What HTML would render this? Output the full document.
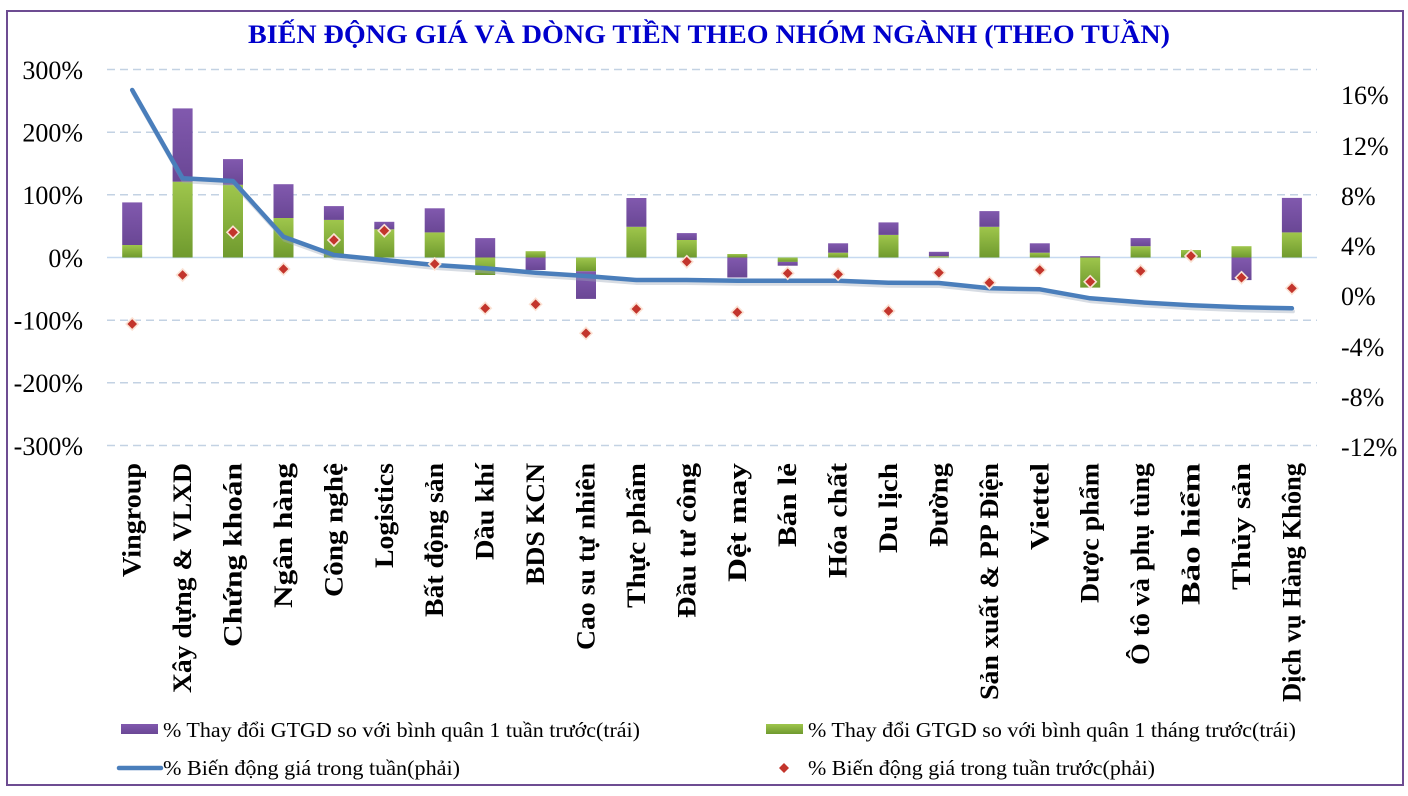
<!DOCTYPE html>
<html><head><meta charset="utf-8">
<style>
html,body{margin:0;padding:0;background:#fff;}
svg{display:block;}
text{font-family:"Liberation Serif","DejaVu Serif",serif;}
</style></head>
<body>
<svg width="1408" height="796" viewBox="0 0 1408 796" xmlns="http://www.w3.org/2000/svg">
<defs>
<linearGradient id="gp" x1="0" y1="0" x2="0" y2="1"><stop offset="0" stop-color="#8159ae"/><stop offset="1" stop-color="#6a4795"/></linearGradient>
<linearGradient id="gg" x1="0" y1="0" x2="0" y2="1"><stop offset="0" stop-color="#9fc64c"/><stop offset="1" stop-color="#6f9a2e"/></linearGradient>
</defs>
<rect x="0" y="0" width="1408" height="796" fill="#fff"/>
<rect x="7" y="11" width="1396" height="774" fill="none" stroke="#6d4c92" stroke-width="2"/>

<text x="248" y="43" font-size="26" font-weight="bold" fill="#0000cc" textLength="922" lengthAdjust="spacingAndGlyphs">BIẾN ĐỘNG GIÁ VÀ DÒNG TIỀN THEO NHÓM NGÀNH (THEO TUẦN)</text>

<!-- gridlines -->
<g stroke="#c3d2e3" stroke-width="1.5" stroke-dasharray="8,5" fill="none">
<line x1="107" y1="69.5" x2="1317" y2="69.5"/>
<line x1="107" y1="132.2" x2="1317" y2="132.2"/>
<line x1="107" y1="194.8" x2="1317" y2="194.8"/>
<line x1="107" y1="320.2" x2="1317" y2="320.2"/>
<line x1="107" y1="382.8" x2="1317" y2="382.8"/>
<line x1="107" y1="445.5" x2="1317" y2="445.5"/>
</g>
<line x1="107" y1="257.5" x2="1317" y2="257.5" stroke="#c6d9f0" stroke-width="1.5"/>

<!-- left axis labels -->
<g font-size="26" fill="#000" text-anchor="end">
<text x="83" y="79">300%</text>
<text x="83" y="141.5">200%</text>
<text x="83" y="204">100%</text>
<text x="83" y="267">0%</text>
<text x="83" y="329.5">-100%</text>
<text x="83" y="392">-200%</text>
<text x="83" y="455">-300%</text>
</g>
<!-- right axis labels -->
<g font-size="26" fill="#000">
<text x="1341" y="104">16%</text>
<text x="1341" y="155">12%</text>
<text x="1341" y="205">8%</text>
<text x="1341" y="255">4%</text>
<text x="1341" y="305">0%</text>
<text x="1341" y="356">-4%</text>
<text x="1341" y="406">-8%</text>
<text x="1341" y="456">-12%</text>
</g>

<!-- bars -->
<g>
<rect x="122.2" y="245" width="20" height="12.5" fill="url(#gg)"/>
<rect x="122.2" y="202.4" width="20" height="42.6" fill="url(#gp)"/>

<rect x="172.6" y="181.7" width="20" height="75.8" fill="url(#gg)"/>
<rect x="172.6" y="108.4" width="20" height="73.3" fill="url(#gp)"/>

<rect x="223" y="184.8" width="20" height="72.7" fill="url(#gg)"/>
<rect x="223" y="159.1" width="20" height="25.7" fill="url(#gp)"/>

<rect x="273.5" y="218" width="20" height="39.5" fill="url(#gg)"/>
<rect x="273.5" y="184.2" width="20" height="33.8" fill="url(#gp)"/>

<rect x="323.9" y="219.9" width="20" height="37.6" fill="url(#gg)"/>
<rect x="323.9" y="206.1" width="20" height="13.8" fill="url(#gp)"/>

<rect x="374.3" y="229.3" width="20" height="28.2" fill="url(#gg)"/>
<rect x="374.3" y="221.8" width="20" height="7.5" fill="url(#gp)"/>

<rect x="424.7" y="232.4" width="20" height="25.1" fill="url(#gg)"/>
<rect x="424.7" y="208.3" width="20" height="24.1" fill="url(#gp)"/>

<rect x="475.2" y="257.5" width="20" height="17.5" fill="url(#gg)"/>
<rect x="475.2" y="238.1" width="20" height="19.4" fill="url(#gp)"/>

<rect x="525.6" y="251.2" width="20" height="6.3" fill="url(#gg)"/>
<rect x="525.6" y="257.5" width="20" height="12.5" fill="url(#gp)"/>

<rect x="576" y="257.5" width="20" height="13.8" fill="url(#gg)"/>
<rect x="576" y="271.3" width="20" height="27.6" fill="url(#gp)"/>

<rect x="626.4" y="226.8" width="20" height="30.7" fill="url(#gg)"/>
<rect x="626.4" y="198" width="20" height="28.8" fill="url(#gp)"/>

<rect x="676.8" y="240" width="20" height="17.5" fill="url(#gg)"/>
<rect x="676.8" y="233.1" width="20" height="6.9" fill="url(#gp)"/>

<rect x="727.3" y="254" width="20" height="3.5" fill="url(#gg)"/>
<rect x="727.3" y="257.5" width="20" height="20" fill="url(#gp)"/>

<rect x="777.7" y="257.5" width="20" height="4.4" fill="url(#gg)"/>
<rect x="777.7" y="261.9" width="20" height="3.8" fill="url(#gp)"/>

<rect x="828.1" y="252.7" width="20" height="4.8" fill="url(#gg)"/>
<rect x="828.1" y="243.3" width="20" height="9.4" fill="url(#gp)"/>

<rect x="878.5" y="234.9" width="20" height="22.6" fill="url(#gg)"/>
<rect x="878.5" y="222.4" width="20" height="12.5" fill="url(#gp)"/>

<rect x="928.9" y="256.2" width="20" height="1.3" fill="url(#gg)"/>
<rect x="928.9" y="251.8" width="20" height="4.4" fill="url(#gp)"/>

<rect x="979.4" y="226.8" width="20" height="30.7" fill="url(#gg)"/>
<rect x="979.4" y="211.1" width="20" height="15.7" fill="url(#gp)"/>

<rect x="1029.8" y="252.7" width="20" height="4.8" fill="url(#gg)"/>
<rect x="1029.8" y="243.3" width="20" height="9.4" fill="url(#gp)"/>

<rect x="1080.2" y="257.5" width="20" height="30.1" fill="url(#gg)"/>
<rect x="1080.2" y="256.2" width="20" height="1.3" fill="url(#gp)"/>

<rect x="1130.6" y="246.2" width="20" height="11.3" fill="url(#gg)"/>
<rect x="1130.6" y="238.1" width="20" height="8.1" fill="url(#gp)"/>

<rect x="1181" y="250" width="20" height="7.5" fill="url(#gg)"/>

<rect x="1231.5" y="246.2" width="20" height="11.3" fill="url(#gg)"/>
<rect x="1231.5" y="257.5" width="20" height="22.6" fill="url(#gp)"/>

<rect x="1281.9" y="232.4" width="20" height="25.1" fill="url(#gg)"/>
<rect x="1281.9" y="197.9" width="20" height="34.5" fill="url(#gp)"/>
</g>

<!-- line shadow -->
<polyline fill="none" stroke="#9aa8b8" stroke-opacity="0.4" stroke-width="4" stroke-linejoin="round" stroke-linecap="round" transform="translate(1,3)"
points="132.2,90 182.6,178.3 233,181 283.5,236.7 333.9,255 384.3,260 434.7,265 485.2,268.3 535.6,272.7 586,276 636.4,280 686.8,280 737.3,280.7 787.7,280.7 838.1,280.7 888.5,282.7 938.9,283 989.4,288.3 1039.8,289.3 1090.2,298.3 1140.6,302.3 1191,305.3 1241.5,307.3 1291.9,308.3"/>
<!-- line -->
<polyline fill="none" stroke="#4a7ebb" stroke-width="4.5" stroke-linejoin="round" stroke-linecap="round"
points="132.2,90 182.6,178.3 233,181 283.5,236.7 333.9,255 384.3,260 434.7,265 485.2,268.3 535.6,272.7 586,276 636.4,280 686.8,280 737.3,280.7 787.7,280.7 838.1,280.7 888.5,282.7 938.9,283 989.4,288.3 1039.8,289.3 1090.2,298.3 1140.6,302.3 1191,305.3 1241.5,307.3 1291.9,308.3"/>

<!-- diamonds -->
<g fill="#c3352c" stroke="#fbe2d4" stroke-width="1.6">
<path d="M132.2,318 L138.2,324 L132.2,330 L126.2,324 Z"/>
<path d="M182.6,269 L188.6,275 L182.6,281 L176.6,275 Z"/>
<path d="M233,226.3 L239,232.3 L233,238.3 L227,232.3 Z"/>
<path d="M283.5,263 L289.5,269 L283.5,275 L277.5,269 Z"/>
<path d="M333.9,234 L339.9,240 L333.9,246 L327.9,240 Z"/>
<path d="M384.3,224.7 L390.3,230.7 L384.3,236.7 L378.3,230.7 Z"/>
<path d="M434.7,258 L440.7,264 L434.7,270 L428.7,264 Z"/>
<path d="M485.2,302.3 L491.2,308.3 L485.2,314.3 L479.2,308.3 Z"/>
<path d="M535.6,298.3 L541.6,304.3 L535.6,310.3 L529.6,304.3 Z"/>
<path d="M586,327.3 L592,333.3 L586,339.3 L580,333.3 Z"/>
<path d="M636.4,303 L642.4,309 L636.4,315 L630.4,309 Z"/>
<path d="M686.8,255.7 L692.8,261.7 L686.8,267.7 L680.8,261.7 Z"/>
<path d="M737.3,306.3 L743.3,312.3 L737.3,318.3 L731.3,312.3 Z"/>
<path d="M787.7,267.3 L793.7,273.3 L787.7,279.3 L781.7,273.3 Z"/>
<path d="M838.1,268.3 L844.1,274.3 L838.1,280.3 L832.1,274.3 Z"/>
<path d="M888.5,305 L894.5,311 L888.5,317 L882.5,311 Z"/>
<path d="M938.9,266.7 L944.9,272.7 L938.9,278.7 L932.9,272.7 Z"/>
<path d="M989.4,276.7 L995.4,282.7 L989.4,288.7 L983.4,282.7 Z"/>
<path d="M1039.8,264 L1045.8,270 L1039.8,276 L1033.8,270 Z"/>
<path d="M1090.2,275.7 L1096.2,281.7 L1090.2,287.7 L1084.2,281.7 Z"/>
<path d="M1140.6,265 L1146.6,271 L1140.6,277 L1134.6,271 Z"/>
<path d="M1191,250 L1197,256 L1191,262 L1185,256 Z"/>
<path d="M1241.5,271.7 L1247.5,277.7 L1241.5,283.7 L1235.5,277.7 Z"/>
<path d="M1291.9,282.3 L1297.9,288.3 L1291.9,294.3 L1285.9,288.3 Z"/>
</g>

<!-- category labels -->
<g font-size="26" font-weight="bold" fill="#000" text-anchor="end" dominant-baseline="central" lengthAdjust="spacingAndGlyphs">
<text transform="translate(132.2,463) rotate(-90)" textLength="114" lengthAdjust="spacingAndGlyphs">Vingroup</text>
<text transform="translate(182.6,463) rotate(-90)" textLength="230" lengthAdjust="spacingAndGlyphs">Xây dựng &amp; VLXD</text>
<text transform="translate(233,463) rotate(-90)" textLength="184" lengthAdjust="spacingAndGlyphs">Chứng khoán</text>
<text transform="translate(283.5,463) rotate(-90)" textLength="145" lengthAdjust="spacingAndGlyphs">Ngân hàng</text>
<text transform="translate(333.9,463) rotate(-90)" textLength="134" lengthAdjust="spacingAndGlyphs">Công nghệ</text>
<text transform="translate(384.3,463) rotate(-90)" textLength="105" lengthAdjust="spacingAndGlyphs">Logistics</text>
<text transform="translate(434.7,463) rotate(-90)" textLength="154" lengthAdjust="spacingAndGlyphs">Bất động sản</text>
<text transform="translate(485.2,463) rotate(-90)" textLength="97" lengthAdjust="spacingAndGlyphs">Dầu khí</text>
<text transform="translate(535.6,463) rotate(-90)" textLength="122" lengthAdjust="spacingAndGlyphs">BDS KCN</text>
<text transform="translate(586,463) rotate(-90)" textLength="187" lengthAdjust="spacingAndGlyphs">Cao su tự nhiên</text>
<text transform="translate(636.4,463) rotate(-90)" textLength="145" lengthAdjust="spacingAndGlyphs">Thực phẩm</text>
<text transform="translate(686.8,463) rotate(-90)" textLength="155" lengthAdjust="spacingAndGlyphs">Đầu tư công</text>
<text transform="translate(737.3,463) rotate(-90)" textLength="119" lengthAdjust="spacingAndGlyphs">Dệt may</text>
<text transform="translate(787.7,463) rotate(-90)" textLength="84" lengthAdjust="spacingAndGlyphs">Bán lẻ</text>
<text transform="translate(838.1,463) rotate(-90)" textLength="115" lengthAdjust="spacingAndGlyphs">Hóa chất</text>
<text transform="translate(888.5,463) rotate(-90)" textLength="90" lengthAdjust="spacingAndGlyphs">Du lịch</text>
<text transform="translate(938.9,463) rotate(-90)" textLength="84" lengthAdjust="spacingAndGlyphs">Đường</text>
<text transform="translate(989.4,463) rotate(-90)" textLength="237" lengthAdjust="spacingAndGlyphs">Sản xuất &amp; PP Điện</text>
<text transform="translate(1039.8,463) rotate(-90)" textLength="87" lengthAdjust="spacingAndGlyphs">Viettel</text>
<text transform="translate(1090.2,463) rotate(-90)" textLength="140" lengthAdjust="spacingAndGlyphs">Dược phẩm</text>
<text transform="translate(1140.6,463) rotate(-90)" textLength="202" lengthAdjust="spacingAndGlyphs">Ô tô và phụ tùng</text>
<text transform="translate(1191,463) rotate(-90)" textLength="142" lengthAdjust="spacingAndGlyphs">Bảo hiểm</text>
<text transform="translate(1241.5,463) rotate(-90)" textLength="127" lengthAdjust="spacingAndGlyphs">Thủy sản</text>
<text transform="translate(1291.9,463) rotate(-90)" textLength="239" lengthAdjust="spacingAndGlyphs">Dịch vụ Hàng Không</text>
</g>

<!-- legend -->
<rect x="121" y="724" width="37" height="10" fill="url(#gp)"/>
<text x="163" y="737" font-size="21" fill="#000" textLength="477" lengthAdjust="spacingAndGlyphs">% Thay đổi GTGD so với bình quân 1 tuần trước(trái)</text>
<rect x="766" y="724" width="37" height="10" fill="url(#gg)"/>
<text x="808" y="737" font-size="21" fill="#000" textLength="488" lengthAdjust="spacingAndGlyphs">% Thay đổi GTGD so với bình quân 1 tháng trước(trái)</text>
<line x1="119" y1="768" x2="161" y2="768" stroke="#4a7ebb" stroke-width="4.5" stroke-linecap="round"/>
<text x="163" y="775" font-size="21" fill="#000" textLength="297" lengthAdjust="spacingAndGlyphs">% Biến động giá trong tuần(phải)</text>
<path d="M784,763 L789,768 L784,773 L779,768 Z" fill="#c3352c"/>
<text x="808" y="775" font-size="21" fill="#000" textLength="347" lengthAdjust="spacingAndGlyphs">% Biến động giá trong tuần trước(phải)</text>
</svg>
</body></html>
